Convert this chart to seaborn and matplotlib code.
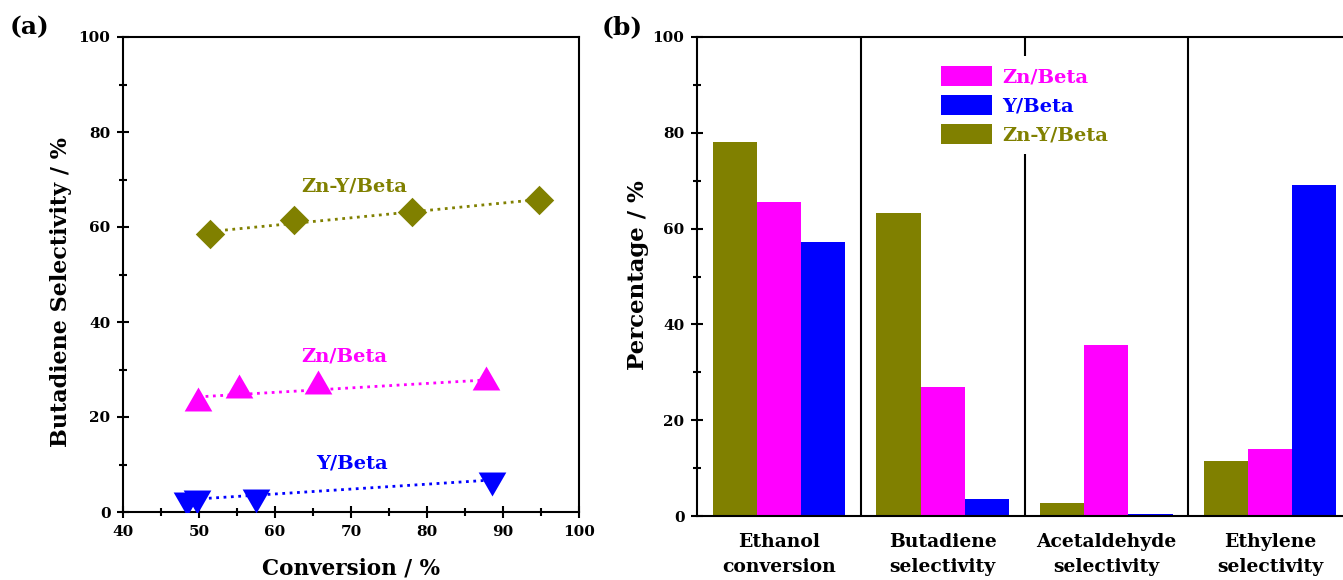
import numpy as np
import pandas as pd
import matplotlib
matplotlib.use('Agg')
import matplotlib.pyplot as plt
from matplotlib.ticker import MultipleLocator
import seaborn as sns

# (a) butadiene selectivity vs conversion
conv_zny = [51.5, 62.5, 78.0, 94.8]
sel_zny = [58.5, 61.5, 63.2, 65.6]
conv_zn = [49.9, 55.2, 65.7, 87.8]
sel_zn = [22.9, 25.7, 26.6, 27.3]
conv_y = [48.4, 49.7, 57.5, 88.5]
sel_y = [2.6, 3.0, 3.2, 6.8]

# (b) performance of the three catalysts
categories = ['Ethanol\nconversion', 'Butadiene\nselectivity',
              'Acetaldehyde\nselectivity', 'Ethylene\nselectivity']
pct_zny = [78.0, 63.3, 2.7, 11.4]
pct_zn = [65.6, 26.9, 35.7, 14.0]
pct_y = [57.3, 3.5, 0.5, 69.0]

OLIVE = '#808000'
MAGENTA = '#ff00ff'
BLUE = '#0000ff'

sns.set_theme(style='ticks')
plt.rcParams['font.family'] = ['DejaVu Serif']
plt.rcParams['font.weight'] = 'bold'
plt.rcParams['axes.labelweight'] = 'bold'
plt.rcParams['axes.linewidth'] = 1.5
for key in ['text.color', 'axes.labelcolor', 'axes.edgecolor',
            'xtick.color', 'ytick.color']:
    plt.rcParams[key] = 'black'

# triangles centred on their centroid (like Origin)
tri_up = [(0, 1.1547), (-1, -0.5774), (1, -0.5774)]
tri_down = [(0, -1.1547), (1, 0.5774), (-1, 0.5774)]

fig = plt.figure(figsize=(13.43, 5.8), dpi=100)
ax1 = fig.add_axes([123 / 1343, 68 / 580, 456 / 1343, 475 / 580])
ax2 = fig.add_axes([697 / 1343, 64 / 580, 655 / 1343, 479 / 580])

# ---- panel (a)
series = [(conv_zny, sel_zny, OLIVE, 'D', 15 ** 2),
          (conv_zn, sel_zn, MAGENTA, tri_up, 23 ** 2),
          (conv_y, sel_y, BLUE, tri_down, 23 ** 2)]
for xs, ys, col, mk, size in series:
    sns.regplot(x=xs, y=ys, ax=ax1, scatter=False, ci=None, color=col,
                line_kws=dict(ls=':', lw=2))
    sns.scatterplot(x=xs, y=ys, ax=ax1, color=col, marker=mk, s=size,
                    linewidth=0, zorder=3)

ax1.text(70.4, 68.6, 'Zn-Y/Beta', color=OLIVE, fontsize=14, ha='center', va='center')
ax1.text(69.1, 32.7, 'Zn/Beta', color=MAGENTA, fontsize=14, ha='center', va='center')
ax1.text(70.1, 10.3, 'Y/Beta', color=BLUE, fontsize=14, ha='center', va='center')

ax1.set_xlim(40, 100)
ax1.set_ylim(0, 100)
ax1.xaxis.set_major_locator(MultipleLocator(10))
ax1.xaxis.set_minor_locator(MultipleLocator(5))
ax1.yaxis.set_major_locator(MultipleLocator(20))
ax1.yaxis.set_minor_locator(MultipleLocator(10))
ax1.tick_params(which='major', direction='inout', length=8, width=1.5,
                labelsize=11, pad=5)
ax1.tick_params(which='minor', direction='inout', length=6, width=1.5)
ax1.set_xlabel('Conversion / %', fontsize=15.5, labelpad=14)
ax1.set_ylabel('Butadiene Selectivity / %', fontsize=16)
ax1.yaxis.set_label_coords(-0.112, 0.463)
for side in ['top', 'right']:
    ax1.spines[side].set_visible(True)

# ---- panel (b)
n = len(categories)
df = pd.DataFrame({
    'category': categories * 3,
    'value': pct_zny + pct_zn + pct_y,
    'catalyst': ['Zn-Y/Beta'] * n + ['Zn/Beta'] * n + ['Y/Beta'] * n,
})
pal = {'Zn-Y/Beta': OLIVE, 'Zn/Beta': MAGENTA, 'Y/Beta': BLUE}
sns.barplot(data=df, x='category', y='value', hue='catalyst',
            hue_order=['Zn-Y/Beta', 'Zn/Beta', 'Y/Beta'], palette=pal,
            order=categories, width=0.81, saturation=1, gap=0,
            errorbar=None, linewidth=0, ax=ax2)

for xv in [0.5, 1.5, 2.5]:
    ax2.axvline(xv, color='black', lw=1.5, zorder=1)

ax2.set_xlim(-0.5, 3.5)
ax2.set_ylim(0, 100)
ax2.yaxis.set_major_locator(MultipleLocator(20))
ax2.yaxis.set_minor_locator(MultipleLocator(10))
ax2.tick_params(axis='y', which='major', direction='inout', length=8,
                width=1.5, labelsize=11, pad=5)
ax2.tick_params(axis='y', which='minor', direction='inout', length=6, width=1.5)
ax2.tick_params(axis='x', length=0, pad=12)
ax2.set_xticks(range(n))
ax2.set_xticklabels(categories, fontsize=13.5, linespacing=1.55)
ax2.set_xlabel('')
ax2.set_ylabel('Percentage / %', fontsize=16.5)
ax2.yaxis.set_label_coords(-0.073, 0.503)
for side in ['top', 'right']:
    ax2.spines[side].set_visible(True)

handles, labels = ax2.get_legend_handles_labels()
lookup = dict(zip(labels, handles))
leg_order = ['Zn/Beta', 'Y/Beta', 'Zn-Y/Beta']
leg = ax2.legend([lookup[k] for k in leg_order], leg_order,
                 loc='upper left', bbox_to_anchor=(0.357, 0.96),
                 fontsize=14, frameon=True, fancybox=False, framealpha=1,
                 facecolor='white', edgecolor='none', borderpad=0.5,
                 borderaxespad=0, handlelength=2.65, handleheight=1.22,
                 handletextpad=0.5, labelspacing=0.42)
leg.set_zorder(5)
for txt, k in zip(leg.get_texts(), leg_order):
    txt.set_color(pal[k])

fig.text(10 / 1343, 1 - 27 / 580, '(a)', fontsize=18, fontweight='bold', va='center')
fig.text(602 / 1343, 1 - 27 / 580, '(b)', fontsize=18, fontweight='bold', va='center')

fig.savefig('out.png', dpi=100)
